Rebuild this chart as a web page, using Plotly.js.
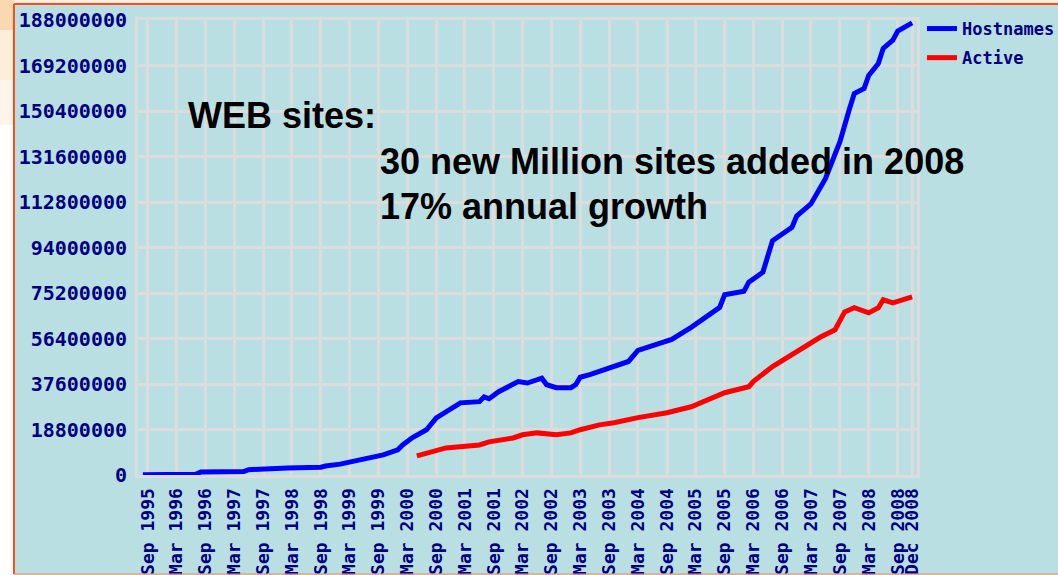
<!DOCTYPE html>
<html>
<head>
<meta charset="utf-8">
<script src="https://cdn.plot.ly/plotly-3.0.1.min.js"></script>
<style>
  html, body { margin: 0; padding: 0; background: #ffffff; }
  #chart { width: 1058px; height: 575px; }
</style>
</head>
<body>
<div id="chart"></div>
<script>
// Web survey, hostnames vs active sites (values in millions)
const hostMonths = [
    '1995-08', '1996-02', '1996-07', '1996-08', '1997-05', '1997-06', '1998-01', '1998-02',
    '1998-09', '1998-10', '1999-01', '1999-05', '1999-10', '2000-01', '2000-02', '2000-04',
    '2000-07', '2000-09', '2001-02', '2001-06', '2001-07', '2001-08', '2001-10', '2002-02',
    '2002-04', '2002-07', '2002-08', '2002-10', '2003-01', '2003-02', '2003-03', '2003-05',
    '2003-09', '2004-01', '2004-03', '2004-08', '2004-10', '2005-02', '2005-05', '2005-08',
    '2005-09', '2006-01', '2006-02', '2006-05', '2006-07', '2006-11', '2006-12', '2007-03',
    '2007-06', '2007-09', '2007-11', '2007-12', '2008-02', '2008-03', '2008-05', '2008-06',
    '2008-08', '2008-09', '2008-12'
];
const hostMillions = [
    0.1, 0.2, 0.3, 1.2, 1.4, 2.2, 2.4, 2.9,
    3.2, 3.7, 4.5, 6.2, 8.3, 10.4, 12.4, 15.4,
    18.7, 23.6, 29.8, 30.3, 32.3, 31.5, 34.4, 38.6,
    38.0, 40.0, 37.3, 36.1, 36.1, 37.3, 40.4, 41.5,
    44.2, 46.9, 51.5, 54.8, 56.0, 61.0, 65.1, 69.3,
    74.5, 75.9, 79.7, 83.8, 96.8, 102.3, 107.0, 112.0,
    122.4, 137.7, 151.4, 157.6, 159.7, 165.1, 170.0, 176.3,
    179.7, 183.4, 186.8
];

const activeMonths = [
    '2000-05', '2000-11', '2001-06', '2001-08', '2002-01', '2002-03', '2002-06', '2002-10',
    '2003-01', '2003-03', '2003-07', '2003-10', '2004-03', '2004-09', '2005-02', '2005-07',
    '2005-09', '2006-02', '2006-03', '2006-07', '2006-11', '2006-12', '2007-05', '2007-08',
    '2007-10', '2007-12', '2008-03', '2008-05', '2008-06', '2008-08', '2008-12'
];
const activeMillions = [
    7.9, 11.2, 12.4, 13.7, 15.3, 16.6, 17.4, 16.6,
    17.4, 18.7, 20.7, 21.6, 23.7, 25.7, 28.2, 32.4,
    34.0, 36.5, 38.6, 44.8, 49.8, 51.0, 57.0, 60.0,
    67.4, 69.1, 67.0, 69.1, 72.4, 71.1, 73.6
];

const tickMonths = [
    '1995-09', '1996-03', '1996-09', '1997-03', '1997-09', '1998-03', '1998-09',
    '1999-03', '1999-09', '2000-03', '2000-09', '2001-03', '2001-09', '2002-03',
    '2002-09', '2003-03', '2003-09', '2004-03', '2004-09', '2005-03', '2005-09',
    '2006-03', '2006-09', '2007-03', '2007-09', '2008-03', '2008-09', '2008-12'
];
const tickLabels = [
    'Sep 1995', 'Mar 1996', 'Sep 1996', 'Mar 1997', 'Sep 1997', 'Mar 1998', 'Sep 1998',
    'Mar 1999', 'Sep 1999', 'Mar 2000', 'Sep 2000', 'Mar 2001', 'Sep 2001', 'Mar 2002',
    'Sep 2002', 'Mar 2003', 'Sep 2003', 'Mar 2004', 'Sep 2004', 'Mar 2005', 'Sep 2005',
    'Mar 2006', 'Sep 2006', 'Mar 2007', 'Sep 2007', 'Mar 2008', 'Sep 2008', 'Dec 2008'
];
const yTickValues = [
    0, 18800000, 37600000, 56400000, 75200000, 94000000,
    112800000, 131600000, 150400000, 169200000, 188000000
];

const NAVY = '#000080';
const CHART_BG = '#b9dfe2';
const GRID = '#dcdcdc';
const PIXEL_FONT = 'DejaVu Sans Mono, Liberation Mono, monospace';

const hostTrace = {
    x: hostMonths,
    y: hostMillions.map(v => v * 1e6),
    type: 'scatter',
    mode: 'lines',
    name: 'Hostnames',
    legendgroup: 'host',
    line: {color: '#0000ff', width: 5}
};

const activeTrace = {
    x: activeMonths,
    y: activeMillions.map(v => v * 1e6),
    type: 'scatter',
    mode: 'lines',
    name: 'Active',
    legendgroup: 'active',
    line: {color: '#ff0000', width: 5}
};

// paper coords of the page edges (plot area is 138..917 x 20..475 px)
function px(x) { return (x - 138) / 779; }
function py(y) { return (475 - y) / 455; }

const shapes = [
    // slide background outside the picture frame
    {type: 'rect', xref: 'paper', yref: 'paper', x0: px(0), x1: px(14), y0: py(575), y1: py(0),
     fillcolor: '#ffffff', line: {width: 0}},
    {type: 'rect', xref: 'paper', yref: 'paper', x0: px(0), x1: px(1058), y0: py(4), y1: py(0),
     fillcolor: '#fdf0e2', line: {width: 0}},
    {type: 'rect', xref: 'paper', yref: 'paper', x0: px(0), x1: px(14), y0: py(30), y1: py(0),
     fillcolor: '#fbd9b0', line: {width: 0}},
    {type: 'rect', xref: 'paper', yref: 'paper', x0: px(0), x1: px(14), y0: py(80), y1: py(30),
     fillcolor: '#fdeedb', line: {width: 0}},
    {type: 'rect', xref: 'paper', yref: 'paper', x0: px(0), x1: px(14), y0: py(125), y1: py(80),
     fillcolor: '#fef5ea', line: {width: 0}},
    // picture frame
    {type: 'line', xref: 'paper', yref: 'paper', x0: px(14), x1: px(14), y0: py(574), y1: py(4),
     line: {color: '#ff4a1a', width: 2}},
    {type: 'line', xref: 'paper', yref: 'paper', x0: px(14), x1: px(1058), y0: py(4), y1: py(4),
     line: {color: '#ff4a1a', width: 2}},
    {type: 'line', xref: 'paper', yref: 'paper', x0: px(14), x1: px(1058), y0: py(574), y1: py(574),
     line: {color: '#f08a6a', width: 1}}
];

const textFont = {family: 'Liberation Sans, Arial, sans-serif', size: 36, color: '#000000', weight: 'bold'};

const annotations = [
    {text: 'WEB sites:', xref: 'paper', yref: 'paper', x: px(186), y: py(115),
     xanchor: 'left', yanchor: 'middle', showarrow: false, font: textFont},
    {text: '30 new Million sites added in 2008', xref: 'paper', yref: 'paper', x: px(378), y: py(161),
     xanchor: 'left', yanchor: 'middle', showarrow: false, font: textFont},
    {text: '17% annual growth', xref: 'paper', yref: 'paper', x: px(378), y: py(206),
     xanchor: 'left', yanchor: 'middle', showarrow: false, font: textFont}
];

const layout = {
    width: 1058,
    height: 575,
    margin: {l: 138, r: 141, t: 20, b: 100, pad: 0, autoexpand: false},
    paper_bgcolor: CHART_BG,
    plot_bgcolor: CHART_BG,
    showlegend: true,
    legend: {
        x: px(922), y: py(11), xanchor: 'left', yanchor: 'top',
        bgcolor: 'rgba(0,0,0,0)',
        traceorder: 'grouped',
        tracegroupgap: 4,
        font: {family: PIXEL_FONT, size: 17, color: NAVY, weight: 'bold'}
    },
    xaxis: {
        type: 'date',
        range: ['1995-07-01', '2009-01-01'],
        tickmode: 'array',
        tickvals: tickMonths,
        ticktext: tickLabels,
        tickangle: -90,
        ticks: '',
        ticklabelstandoff: 3,
        tickfont: {family: PIXEL_FONT, size: 18, color: NAVY, weight: 'bold'},
        showgrid: true,
        gridcolor: GRID,
        gridwidth: 3,
        showline: true,
        linecolor: GRID,
        linewidth: 3,
        mirror: true,
        zeroline: false,
        automargin: false,
        fixedrange: true
    },
    yaxis: {
        range: [0, 188000000],
        tickmode: 'array',
        tickvals: yTickValues,
        tickformat: 'd',
        ticks: '',
        ticklabelstandoff: 4,
        tickfont: {family: PIXEL_FONT, size: 20, color: NAVY, weight: 'bold'},
        showgrid: true,
        gridcolor: GRID,
        gridwidth: 3,
        showline: true,
        linecolor: GRID,
        linewidth: 3,
        mirror: true,
        zeroline: false,
        automargin: false,
        fixedrange: true
    },
    shapes: shapes,
    annotations: annotations
};

Plotly.newPlot('chart', [hostTrace, activeTrace], layout, {displayModeBar: false, staticPlot: true});
</script>
</body>
</html>
